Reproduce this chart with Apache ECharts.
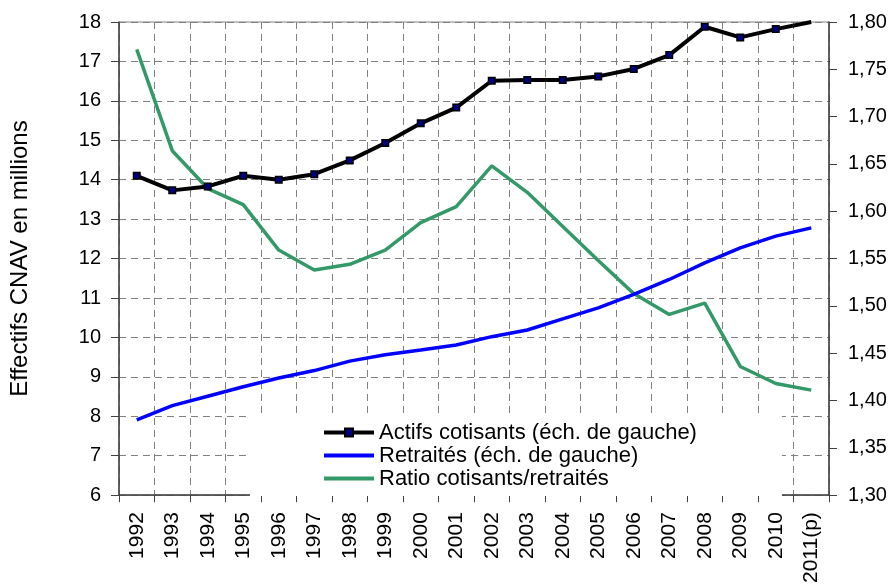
<!DOCTYPE html>
<html>
<head>
<meta charset="utf-8">
<script src="https://cdn.jsdelivr.net/npm/echarts@6/dist/echarts.min.js"></script>
<style>
	html, body { margin: 0; padding: 0; background: #fff; }
	#chart { width: 895px; height: 586px; }
</style>
</head>
<body>
<div id="chart"></div>
<script>
/*---------- données ----------*/
var annees = ['1992','1993','1994','1995','1996','1997','1998','1999','2000','2001',
	'2002','2003','2004','2005','2006','2007','2008','2009','2010','2011(p)'];
var actifs = [14.10,13.73,13.83,14.10,14.00,14.14,14.49,14.93,15.43,15.83,
	16.51,16.53,16.53,16.62,16.81,17.16,17.88,17.61,17.82,18.00];
var retraites = [7.91,8.27,8.51,8.75,8.97,9.16,9.40,9.56,9.68,9.81,
	10.02,10.19,10.47,10.75,11.09,11.47,11.89,12.27,12.57,12.78];
var ratio = [1.771,1.664,1.624,1.607,1.559,1.538,1.544,1.559,1.588,1.605,
	1.648,1.620,1.584,1.548,1.513,1.491,1.503,1.436,1.418,1.411];
var nomsSeries = ['Actifs cotisants (éch. de gauche)', 'Retraités (éch. de gauche)', 'Ratio cotisants/retraités'];
/*-----------------------------*/

var police = '"Liberation Sans", Arial, sans-serif';
var grille = { show: true, lineStyle: { color: '#808080', width: 1, type: [7, 5] } };

// le dernier point (2011) n'a pas de marqueur visible
var actifsData = actifs.map(function(v, i) {
	return i === actifs.length - 1 ? { value: v, symbol: 'none' } : v;
});

var myChart = echarts.init(document.getElementById('chart'));
myChart.setOption({
	animation: false,
	grid: {
		left: 119,
		right: 66,
		top: 22,
		bottom: 90,
		show: true,
		borderColor: '#808080',
		borderWidth: 1
	},
	legend: {
		orient: 'vertical',
		left: 250,
		top: 414,
		padding: [7, 85, 6, 72],
		backgroundColor: '#fff',
		itemWidth: 50,
		itemHeight: 10,
		itemGap: 0,
		lineStyle: { width: 4 },
		textStyle: {
			fontFamily: police,
			fontSize: 22,
			lineHeight: 23,
			color: '#000'
		},
		data: [
			{ name: nomsSeries[0] },
			{ name: nomsSeries[1], itemStyle: { opacity: 0 } },
			{ name: nomsSeries[2], itemStyle: { opacity: 0 } }
		]
	},
	xAxis: {
		type: 'category',
		data: annees,
		boundaryGap: true,
		axisLine: { lineStyle: { color: '#404040', width: 1.5 } },
		axisTick: { show: true, length: 7, interval: 0, lineStyle: { color: '#404040' } },
		axisLabel: {
			rotate: 90,
			interval: 0,
			margin: 17,
			color: '#000',
			fontFamily: police,
			fontSize: 21
		},
		splitLine: grille
	},
	yAxis: [
		{
			type: 'value',
			min: 6,
			max: 18,
			interval: 1,
			name: 'Effectifs CNAV en millions',
			nameLocation: 'middle',
			nameGap: 87,
			nameTextStyle: { fontFamily: police, fontSize: 24, color: '#000' },
			axisLine: { show: true, lineStyle: { color: '#404040', width: 1.5 } },
			axisTick: { show: true, length: 8, lineStyle: { color: '#404040' } },
			axisLabel: { margin: 18, color: '#000', fontFamily: police, fontSize: 20 },
			splitLine: grille
		},
		{
			type: 'value',
			min: 1.30,
			max: 1.80,
			interval: 0.05,
			position: 'right',
			axisLine: { show: true, lineStyle: { color: '#404040', width: 1.5 } },
			axisTick: { show: true, length: 8, lineStyle: { color: '#404040' } },
			axisLabel: {
				margin: 19,
				color: '#000',
				fontFamily: police,
				fontSize: 20,
				formatter: function(v) { return v.toFixed(2).replace('.', ','); }
			},
			splitLine: { show: false }
		}
	],
	series: [
		{
			name: nomsSeries[0],
			type: 'line',
			data: actifsData,
			symbol: 'rect',
			symbolSize: 6.5,
			showAllSymbol: true,
			lineStyle: { color: '#000', width: 4 },
			itemStyle: { color: '#000080', borderColor: '#000', borderWidth: 1.5 },
			z: 5
		},
		{
			name: nomsSeries[1],
			type: 'line',
			data: retraites,
			symbol: 'none',
			lineStyle: { color: '#0000ff', width: 3.5 },
			itemStyle: { color: '#0000ff' },
			z: 4
		},
		{
			name: nomsSeries[2],
			type: 'line',
			yAxisIndex: 1,
			data: ratio,
			symbol: 'none',
			lineStyle: { color: '#339966', width: 3.5 },
			itemStyle: { color: '#339966' },
			z: 3
		}
	]
});
</script>
</body>
</html>
